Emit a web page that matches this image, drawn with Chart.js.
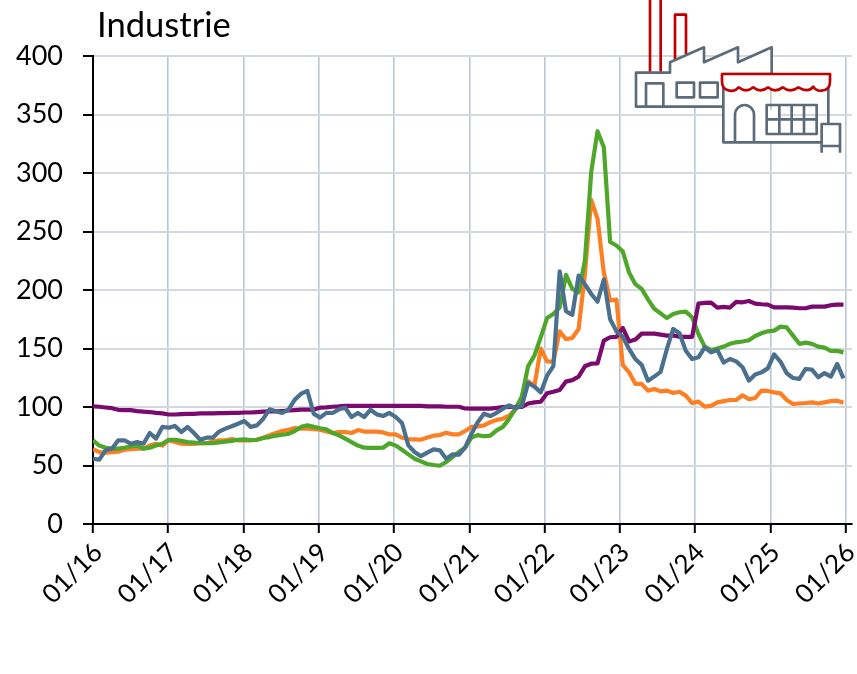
<!DOCTYPE html>
<html>
<head>
<meta charset="utf-8">
<style>
html,body{margin:0;padding:0;background:#fff;overflow:hidden}
#wrap{position:relative;width:857px;height:674px}
canvas{display:block}
#icon{position:absolute;left:620px;top:0}
</style>
<script src="https://cdn.jsdelivr.net/npm/chart.js@4/dist/chart.umd.min.js"></script>
</head>
<body>
<div id="wrap">
<canvas id="c" width="857" height="674"></canvas>
<svg id="icon" width="237" height="160" viewBox="0 0 711 480" fill="none" stroke-width="8" stroke-linejoin="round">
  <g stroke="#c00000">
    <path d="M90 0V215M122 0V215"/>
    <path d="M165 178V44H198V162"/>
  </g>
  <g stroke="#5b6b79">
    <path fill="#fff" d="M48 218H150V187L252 142V187L354 142V187L455 142V222H310V320H48Z"/>
    <path d="M78 320V250H130V320"/>
    <rect x="170" y="248" width="52" height="44"/>
    <rect x="240" y="248" width="53" height="44"/>
    <path fill="#fff" d="M310 240V427H605M625 250V372"/>
    <path d="M345 427V345A28.500 30 0 0 1 402 345V427"/>
    <rect x="440" y="315" width="150" height="87"/>
    <path d="M478 315V402M515 315V402M552 315V402M440 358H590"/>
    <path fill="#fff" d="M605 372H660V438H605Z"/>
    <path d="M605 438V458M660 438V458"/>
  </g>
  <path stroke="#c00000" fill="#fff" d="M306 222H630V245Q630 270 605 272Q588 274 580 260Q565 280 535 262Q510 280 488 262Q465 280 444 262Q420 280 400 262Q378 280 356 262Q342 278 322 270Q306 265 306 245Z"/>
</svg>
</div>
<script>
const tickLabels = ["01/16","01/17","01/18","01/19","01/20","01/21","01/22","01/23","01/24","01/25","01/26"];
const yearTicks = [0,12,24,36,48,60,72,84,96,108,120];
const orangeSeries = [64,61.5,61,61.5,61.8,63.5,64,64.4,64.4,67,68.6,67,71.5,70,68.6,68.4,68.4,69,69,70.6,71.5,71.5,72.6,71.5,71.5,71.5,72,73.8,75.8,77.8,79.5,80.6,82,81.5,81.5,81,80.6,79,77.8,78.6,78.6,77.8,80.3,79,79,79,78.3,76.6,76.6,73.8,72.6,72.3,72,74,75.5,76,78,76.6,76.6,79.5,83,83.5,84.3,87,89,90,92.6,98,107,122,118,150,139,138.8,164.7,158,159,166.7,213.7,277,260.8,215,191,191.8,136,129.6,119.7,119.7,114,115.4,113.4,114,112,113,109.7,103.4,104.6,100.3,101,104,105,106,106,110,106.6,107.7,114,113.7,112.5,111.7,106,102.6,103,103.4,104,103,104,105,105.4,103.7];
const greenSeries = [71.5,67,65.2,64.4,64.4,65.2,66.4,67,64.4,65.2,67,68.6,72,72,71,70,69.5,69,69,69,69.8,70.4,71,72,72.3,71.8,72,73.5,74.3,75.5,76.3,77,79.5,83,84.3,83,81.8,81,77.8,75.8,73,70,67,65.2,65,65,65.2,69,67,63.5,59.5,55.8,53.5,51.3,50.4,49.8,53,57.2,61.5,65.2,73.8,76,75,75.5,80,83,90,98.6,109,135,144,159.6,176,179.5,185,213,201,198,225,300.7,335.7,322,241,238,233,215,205,201,192,184,180,176,179.5,181,181.5,176.7,162.4,151.6,148.7,150,151.6,154,155.3,156,157,160.7,163,164.7,165.3,168.7,168,161,154,155,154,151.6,150.7,148,148,146.7];
const purpleSeries = [100.5,100.2,99.6,99,97.6,97.3,97.3,96.5,96,95.7,95,94.5,93.6,93.6,93.9,94.2,94.2,94.5,94.5,94.5,94.8,94.8,95,95,95.3,95.3,95.6,96,96.3,96.3,96.6,97,97.4,97.7,97.7,97.8,99.4,99.7,100.2,100.5,101,101,101,101,101,101,101,101,101,101,101,101,101,100.6,100.6,100.5,100.2,100.2,100.2,98.7,98.6,98.6,98.6,98.6,99.2,100,100.3,99.8,100,103,104,104.5,111.7,113,114.5,121.7,123,126,134.8,137,137.3,156.7,159.6,160,167.6,156,157.6,162.7,162.7,162.7,161.9,161,161.2,160,160,160,188.4,189,189.2,185,185.5,185,189.8,189.5,190.6,188.4,187.8,187.5,185.2,185.2,185.2,185,184.4,184.4,185.8,185.8,185.8,187,187.5,187.5];
const blueSeries = [55.8,55,63,64.4,71.5,71.5,68.6,70,68.6,77.8,73,83,82.3,83.8,78.6,83,77.8,72,73.8,73.8,79,81.5,83.5,85.7,88,83,84.3,90,98,96.3,94.9,97.7,106.3,111.4,113.7,94.3,90.9,95,94.9,98,99.4,91.4,94.9,91.4,97.7,93.7,92.3,94.9,91.4,86.3,67.2,61.5,58,61,63.8,63,55.8,59.5,59.2,65.2,77,87,94.3,92.3,95,98.6,101.4,99,101,120.5,117.4,112.5,126.8,135,216,181.8,178.7,212.3,205,196.6,190,209,175,164.7,160,149.6,141,136,122.5,126,130,149.6,166.7,163,148,141,142.5,151,146.7,148.7,138,141,139,134,122.5,127.7,129.6,133,145,138.8,128.8,124.8,124,132.5,132,125.4,129,126,136.8,124.5];
const seriesColors = {orange:"#fd7f24",green:"#4ea72a",purple:"#7a0a6e",blue:"#4b708e"};
const lastPointAt = 119.64;
const titleText = "Industrie";

function pts(values){
  return values.map((v,i)=>({x:i*lastPointAt/(values.length-1),y:v}));
}
function ds(label,values,color,order){
  return {label,data:pts(values),borderColor:color,borderWidth:4.2,pointRadius:0,tension:0,
          borderJoinStyle:"round",borderCapStyle:"butt",order,fill:false};
}
const titlePlugin = {
  id:"titleText",
  afterDraw(chart){
    const ctx=chart.ctx;
    ctx.save();
    ctx.font='34.6px Lato';
    ctx.fillStyle="#000";
    ctx.textBaseline="alphabetic";
    ctx.textAlign="left";
    ctx.fillText(titleText,97,37);
    ctx.restore();
  }
};
new Chart(document.getElementById("c"),{
  type:"line",
  data:{datasets:[
    ds("Orange",orangeSeries,seriesColors.orange,4),
    ds("Green",greenSeries,seriesColors.green,3),
    ds("Purple",purpleSeries,seriesColors.purple,2),
    ds("Blue",blueSeries,seriesColors.blue,1)
  ]},
  plugins:[titlePlugin],
  options:{
    responsive:false,animation:false,
    layout:{padding:{top:56,right:5,left:0,bottom:0}},
    plugins:{legend:{display:false},tooltip:{enabled:false},title:{display:false}},
    scales:{
      x:{
        type:"linear",min:0,max:121,
        afterFit(s){s.height=150;s.paddingLeft=0;s.paddingRight=0;},
        afterBuildTicks(s){s.ticks=yearTicks.map(v=>({value:v}));},
        ticks:{autoSkip:false,minRotation:45,maxRotation:45,padding:4,labelOffset:5,color:"#000",
               font:{family:"Lato",size:26},
               callback:(v)=>tickLabels[yearTicks.indexOf(v)]},
        grid:{color:"#bcc7d2",lineWidth:1.6,tickLength:9,tickColor:"#000",tickWidth:2,drawOnChartArea:true},
        border:{color:"#000",width:2}
      },
      y:{
        min:0,max:400,
        afterFit(s){s.width=93;s.paddingTop=0;s.paddingBottom=0;},
        ticks:{stepSize:50,padding:20,color:"#000",font:{family:"Lato",size:27}},
        grid:{color:"#d3d9df",lineWidth:2,tickLength:10,tickColor:"#000",tickWidth:2},
        border:{color:"#000",width:2}
      }
    }
  }
});
</script>
</body>
</html>
